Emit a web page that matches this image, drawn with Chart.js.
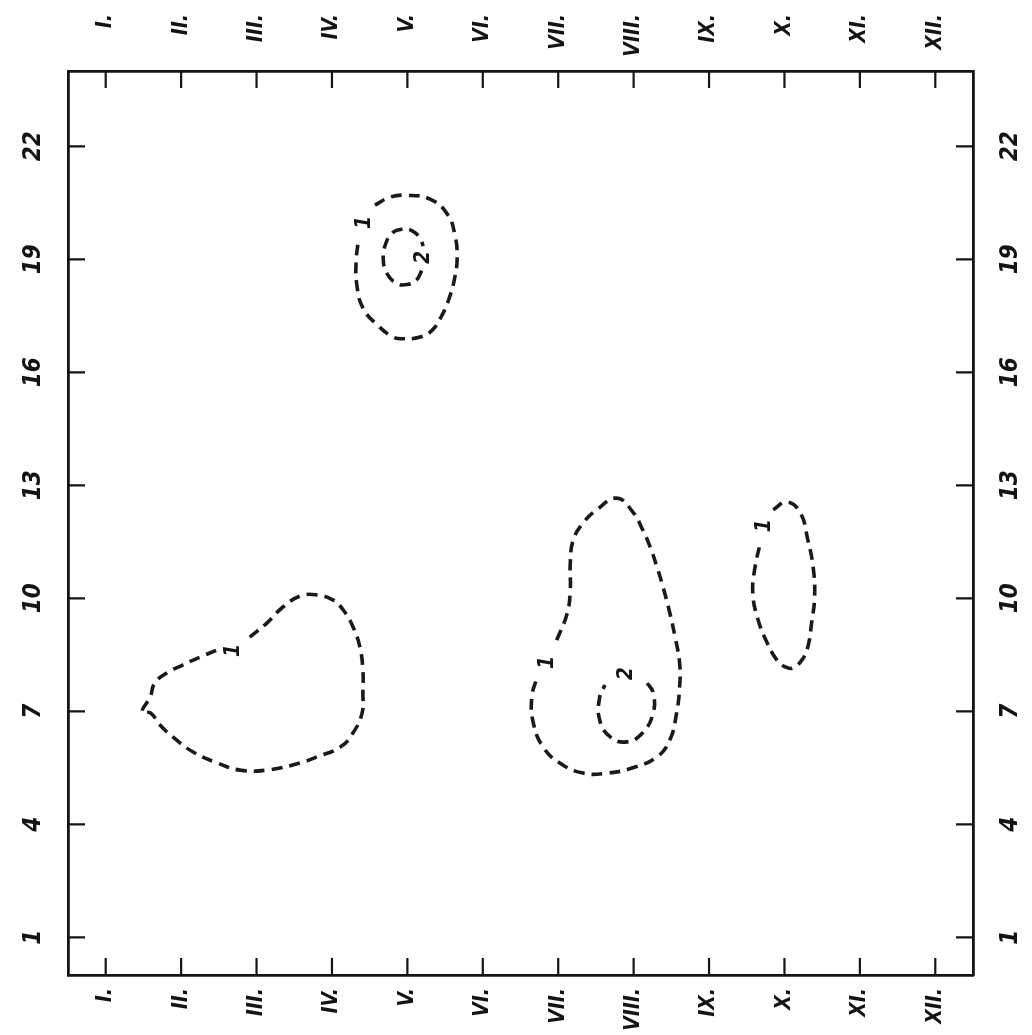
<!DOCTYPE html>
<html>
<head>
<meta charset="utf-8">
<script src="https://cdn.jsdelivr.net/npm/chart.js@4.4.0/dist/chart.umd.min.js"></script>
<style>
  html, body { margin: 0; padding: 0; background: #fff; }
  #wrap { width: 1032px; height: 1035px; }
</style>
</head>
<body>
<div id="wrap"><canvas id="ChartIsolines"></canvas></div>
<script>
// months (x) and hours (y)
const monthTicks = [1, 2, 3, 4, 5, 6, 7, 8, 9, 10, 11, 12];
const monthLabels = ['I.', 'II.', 'III.', 'IV.', 'V.', 'VI.', 'VII.', 'VIII.', 'IX.', 'X.', 'XI.', 'XII.'];
const hourTicks = [1, 4, 7, 10, 13, 16, 19, 22];

// isoline "1" around May evening
const mayOuterX = [4.57, 4.77, 4.97, 5.30, 5.53, 5.63, 5.66, 5.63, 5.56, 5.46, 5.33, 5.17, 4.94, 4.81, 4.60, 4.41, 4.33, 4.32, 4.35];
const mayOuterY = [20.44, 20.65, 20.7, 20.6, 20.2, 19.65, 19.06, 18.53, 18.0, 17.52, 17.12, 16.94, 16.89, 16.94, 17.26, 17.71, 18.32, 18.93, 19.51];
// isoline "2" around May evening
const mayInnerX = [5.19, 5.12, 5.0, 4.86, 4.73, 4.68, 4.71, 4.80, 4.93, 5.07, 5.17, 5.21];
const mayInnerY = [18.7, 18.45, 18.33, 18.36, 18.62, 19.0, 19.4, 19.7, 19.8, 19.75, 19.55, 19.35];
// isoline "1" spring morning
const springX = [2.91, 3.14, 3.35, 3.58, 3.80, 4.01, 4.15, 4.28, 4.37, 4.41, 4.41, 4.40, 4.28, 4.11, 3.80, 3.58, 3.14, 2.78, 2.48, 2.16, 1.89, 1.72, 1.59, 1.48, 1.59, 1.65, 1.81, 2.02, 2.25, 2.48];
const springY = [8.97, 9.35, 9.77, 10.06, 10.09, 9.96, 9.69, 9.24, 8.71, 8.10, 7.49, 6.96, 6.43, 6.05, 5.79, 5.63, 5.44, 5.44, 5.63, 5.92, 6.32, 6.64, 6.96, 6.98, 7.38, 7.75, 8.02, 8.23, 8.44, 8.63];
// isoline "1" summer morning
const summerOuterX = [6.98, 7.12, 7.16, 7.16, 7.20, 7.33, 7.51, 7.78, 7.99, 8.12, 8.22, 8.31, 8.39, 8.48, 8.55, 8.61, 8.61, 8.57, 8.48, 8.31, 7.99, 7.65, 7.33, 7.02, 6.80, 6.67, 6.65, 6.72];
const summerOuterY = [8.89, 9.61, 10.22, 10.94, 11.55, 12.00, 12.35, 12.66, 12.29, 11.82, 11.36, 10.83, 10.30, 9.61, 8.97, 8.28, 7.65, 6.96, 6.24, 5.79, 5.50, 5.36, 5.36, 5.63, 6.05, 6.69, 7.38, 7.91];
// isoline "2" summer morning
const summerInnerX = [8.18, 8.26, 8.26, 8.12, 7.91, 7.69, 7.55, 7.55, 7.62];
const summerInnerY = [7.75, 7.49, 6.96, 6.43, 6.19, 6.32, 6.77, 7.38, 7.70];
// isoline "1" October
const octoberX = [9.85, 10.03, 10.21, 10.31, 10.38, 10.40, 10.36, 10.31, 10.23, 10.11, 10.01, 9.90, 9.77, 9.65, 9.58, 9.61, 9.68];
const octoberY = [12.35, 12.56, 12.27, 11.55, 10.83, 10.04, 9.35, 8.71, 8.36, 8.15, 8.18, 8.36, 8.82, 9.43, 10.14, 10.83, 11.47];

// isoline value labels
const isoLabelX = [4.43, 5.22, 2.69, 6.86, 7.90, 9.73];
const isoLabelY = [19.98, 19.05, 8.62, 8.30, 8.00, 11.93];
const isoLabelText = ['1', '2', '1', '1', '2', '1'];

function pts(xs, ys) {
    return xs.map((v, i) => ({x: v, y: ys[i]}));
}

function isoline(xs, ys) {
    return {
        data: pts(xs, ys),
        showLine: true,
        borderColor: '#1a1a1a',
        borderWidth: 3.6,
        borderDash: [11, 7],
        pointRadius: 0,
        tension: 0.45,
        fill: false
    };
}

// inward ticks, rotated labels and isoline numbers
const frameMarks = {
    id: 'frameMarks',
    afterDraw(chart) {
        const ctx = chart.ctx;
        const a = chart.chartArea;
        const x = chart.scales.x, y = chart.scales.y;
        ctx.save();
        ctx.strokeStyle = '#151515';
        ctx.lineWidth = 2.2;
        ctx.beginPath();
        monthTicks.forEach(m => {
            const px = x.getPixelForValue(m);
            ctx.moveTo(px, a.top); ctx.lineTo(px, a.top + 17);
            ctx.moveTo(px, a.bottom); ctx.lineTo(px, a.bottom - 17);
        });
        hourTicks.forEach(h => {
            const py = y.getPixelForValue(h);
            ctx.moveTo(a.left, py); ctx.lineTo(a.left + 17, py);
            ctx.moveTo(a.right, py); ctx.lineTo(a.right - 17, py);
        });
        ctx.stroke();

        ctx.fillStyle = '#141414';
        ctx.textBaseline = 'middle';
        function upText(txt, px, py, align) {
            ctx.save();
            ctx.translate(px, py);
            ctx.rotate(-Math.PI / 2);
            ctx.textAlign = align;
            ctx.fillText(txt, 0, 0);
            ctx.restore();
        }
        ctx.font = 'italic bold 21px "DejaVu Sans Condensed", "Liberation Sans"';
        monthTicks.forEach((m, i) => {
            const px = x.getPixelForValue(m);
            upText(monthLabels[i], px, 14, 'right');
            upText(monthLabels[i], px, a.bottom + 13, 'right');
        });
        ctx.font = 'italic bold 24px "DejaVu Sans Condensed", "Liberation Sans"';
        hourTicks.forEach(h => {
            const py = y.getPixelForValue(h);
            upText(String(h), 34, py, 'center');
            upText(String(h), 1011, py, 'center');
        });

        ctx.font = 'italic bold 21px "DejaVu Sans Condensed", "Liberation Sans"';
        isoLabelText.forEach((t, i) => {
            upText(t, x.getPixelForValue(isoLabelX[i]), y.getPixelForValue(isoLabelY[i]), 'center');
        });
        ctx.restore();
    }
};

const sideAxis = (pos, min, max) => ({
    type: 'linear',
    position: pos,
    min: min,
    max: max,
    ticks: {display: false},
    grid: {display: false, drawTicks: false},
    border: {display: true, color: '#151515', width: 2.8}
});

const ctx = document.getElementById('ChartIsolines');
new Chart(ctx, {
    type: 'scatter',
    data: {
        datasets: [
            isoline(mayOuterX, mayOuterY),
            isoline(mayInnerX, mayInnerY),
            isoline(springX, springY),
            isoline(summerOuterX, summerOuterY),
            isoline(summerInnerX, summerInnerY),
            isoline(octoberX, octoberY)
        ]
    },
    options: {
        responsive: true,
        maintainAspectRatio: false,
        animation: false,
        layout: {padding: {left: 68, right: 59, top: 71, bottom: 60}},
        plugins: {
            legend: false,
            tooltip: {enabled: false}
        },
        scales: {
            x: sideAxis('bottom', 0.5, 12.5),
            x2: sideAxis('top', 0.5, 12.5),
            y: sideAxis('left', 0, 24),
            y2: sideAxis('right', 0, 24)
        }
    },
    plugins: [frameMarks]
});
</script>
</body>
</html>
